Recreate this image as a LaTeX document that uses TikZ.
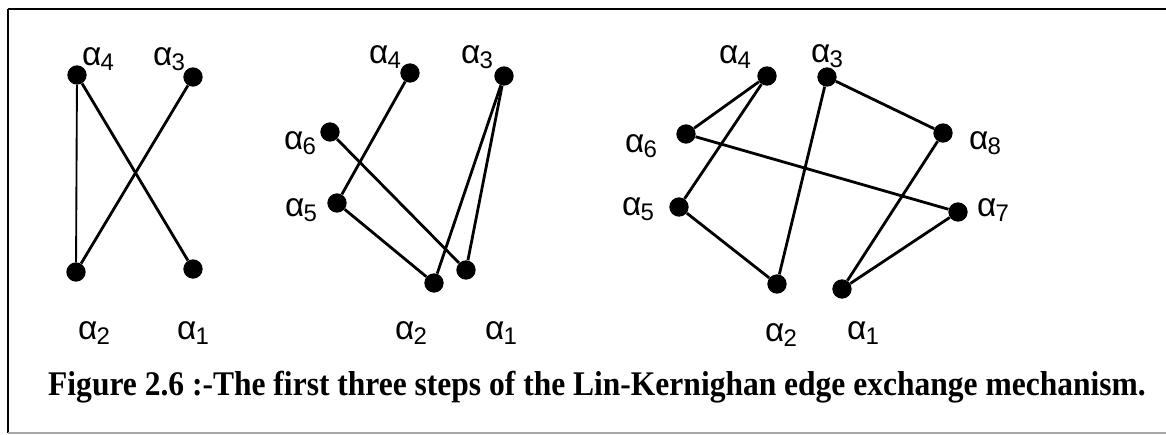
\documentclass[tikz,border=0pt]{standalone}
\usepackage{fontspec}
\setmainfont{Liberation Serif}
\newfontfamily\lblfont{Liberation Sans}
\newcommand{\al}[1]{α\kern-0.5pt\raisebox{-0.28ex}{\fontsize{18}{20}\selectfont #1}}
\begin{document}
\begin{tikzpicture}[x=0.75pt,y=-0.75pt,
  vtx/.style={circle,fill=black,inner sep=0pt,minimum size=14.5pt},
  lbl/.style={inner sep=0pt,font=\lblfont\fontsize{25}{28}\selectfont},
  edge/.style={line width=2.1pt},
  thin edge/.style={line width=1.4pt},
  frame/.style={line width=1.8pt}]
\useasboundingbox (0,0) rectangle (1166,435);
% frame
\draw[frame] (8,9) coordinate (tl) -- (1166,9) coordinate (tr);
\draw[line width=1.4pt] (tl) -- (8,433) coordinate (bl);
\draw[line width=1.2pt,black!35] (bl) -- (1166,433) coordinate (br);
% panel 1
\node[vtx] (a4) at (77,75) {};
\node[vtx] (a3) at (193,77) {};
\node[vtx] (a2) at (76,272) {};
\node[vtx] (a1) at (193,269) {};
\node[lbl] (la4) at (98,59) {\al{4}};
\node[lbl] (la3) at (169,59) {\al{3}};
\node[lbl] (la2) at (94,333) {\al{2}};
\node[lbl] (la1) at (193,333) {\al{1}};
\draw[thin edge] (a4) -- (a2);
\draw[edge] (a4) -- (a1);
\draw[edge] (a3) -- (a2);
% panel 2
\node[vtx] (b6) at (330,132) {};
\node[vtx] (b5) at (337,203) {};
\node[vtx] (b4) at (410,73) {};
\node[vtx] (b3) at (504,76) {};
\node[vtx] (b2) at (434,283) {};
\node[vtx] (b1) at (466,270) {};
\node[lbl] (lb6) at (300,143) {\al{6}};
\node[lbl] (lb5) at (301,210) {\al{5}};
\node[lbl] (lb4) at (385,57) {\al{4}};
\node[lbl] (lb3) at (477,57) {\al{3}};
\node[lbl] (lb2) at (411,333) {\al{2}};
\node[lbl] (lb1) at (501,333) {\al{1}};
\draw[edge] (b4) -- (b5);
\draw[edge] (b5) -- (b2);
\draw[edge] (b6) -- (b1);
\draw[edge] (b3) -- (b2);
\draw[edge] (b3) -- (b1);
% panel 3
\node[vtx] (c4) at (767,76) {};
\node[vtx] (c6) at (686,134) {};
\node[vtx] (c5) at (679,207) {};
\node[vtx] (c2) at (777,284) {};
\node[vtx] (c3) at (827,77) {};
\node[vtx] (c8) at (943,133) {};
\node[vtx] (c7) at (958,212) {};
\node[vtx] (c1) at (842,289) {};
\node[lbl] (lc4) at (735,57) {\al{4}};
\node[lbl] (lc3) at (827,56) {\al{3}};
\node[lbl] (lc6) at (641,146) {\al{6}};
\node[lbl] (lc5) at (638,209) {\al{5}};
\node[lbl] (lc8) at (985,143) {\al{8}};
\node[lbl] (lc7) at (993,210) {\al{7}};
\node[lbl] (lc2) at (781,335) {\al{2}};
\node[lbl] (lc1) at (863,333) {\al{1}};
\draw[edge] (c4) -- (c6);
\draw[edge] (c4) -- (c5);
\draw[edge] (c5) -- (c2);
\draw[edge] (c6) -- (c7);
\draw[edge] (c3) -- (c2);
\draw[edge] (c3) -- (c8);
\draw[edge] (c8) -- (c1);
\draw[edge] (c7) -- (c1);
% caption
\node[inner sep=0pt,font=\bfseries\fontsize{24}{28}\selectfont] (cap) at (597,387)
  {\scalebox{0.985}[1.08]{Figure 2.6 :-The first three steps of the Lin-Kernighan edge exchange mechanism.}};
\end{tikzpicture}
\end{document}
